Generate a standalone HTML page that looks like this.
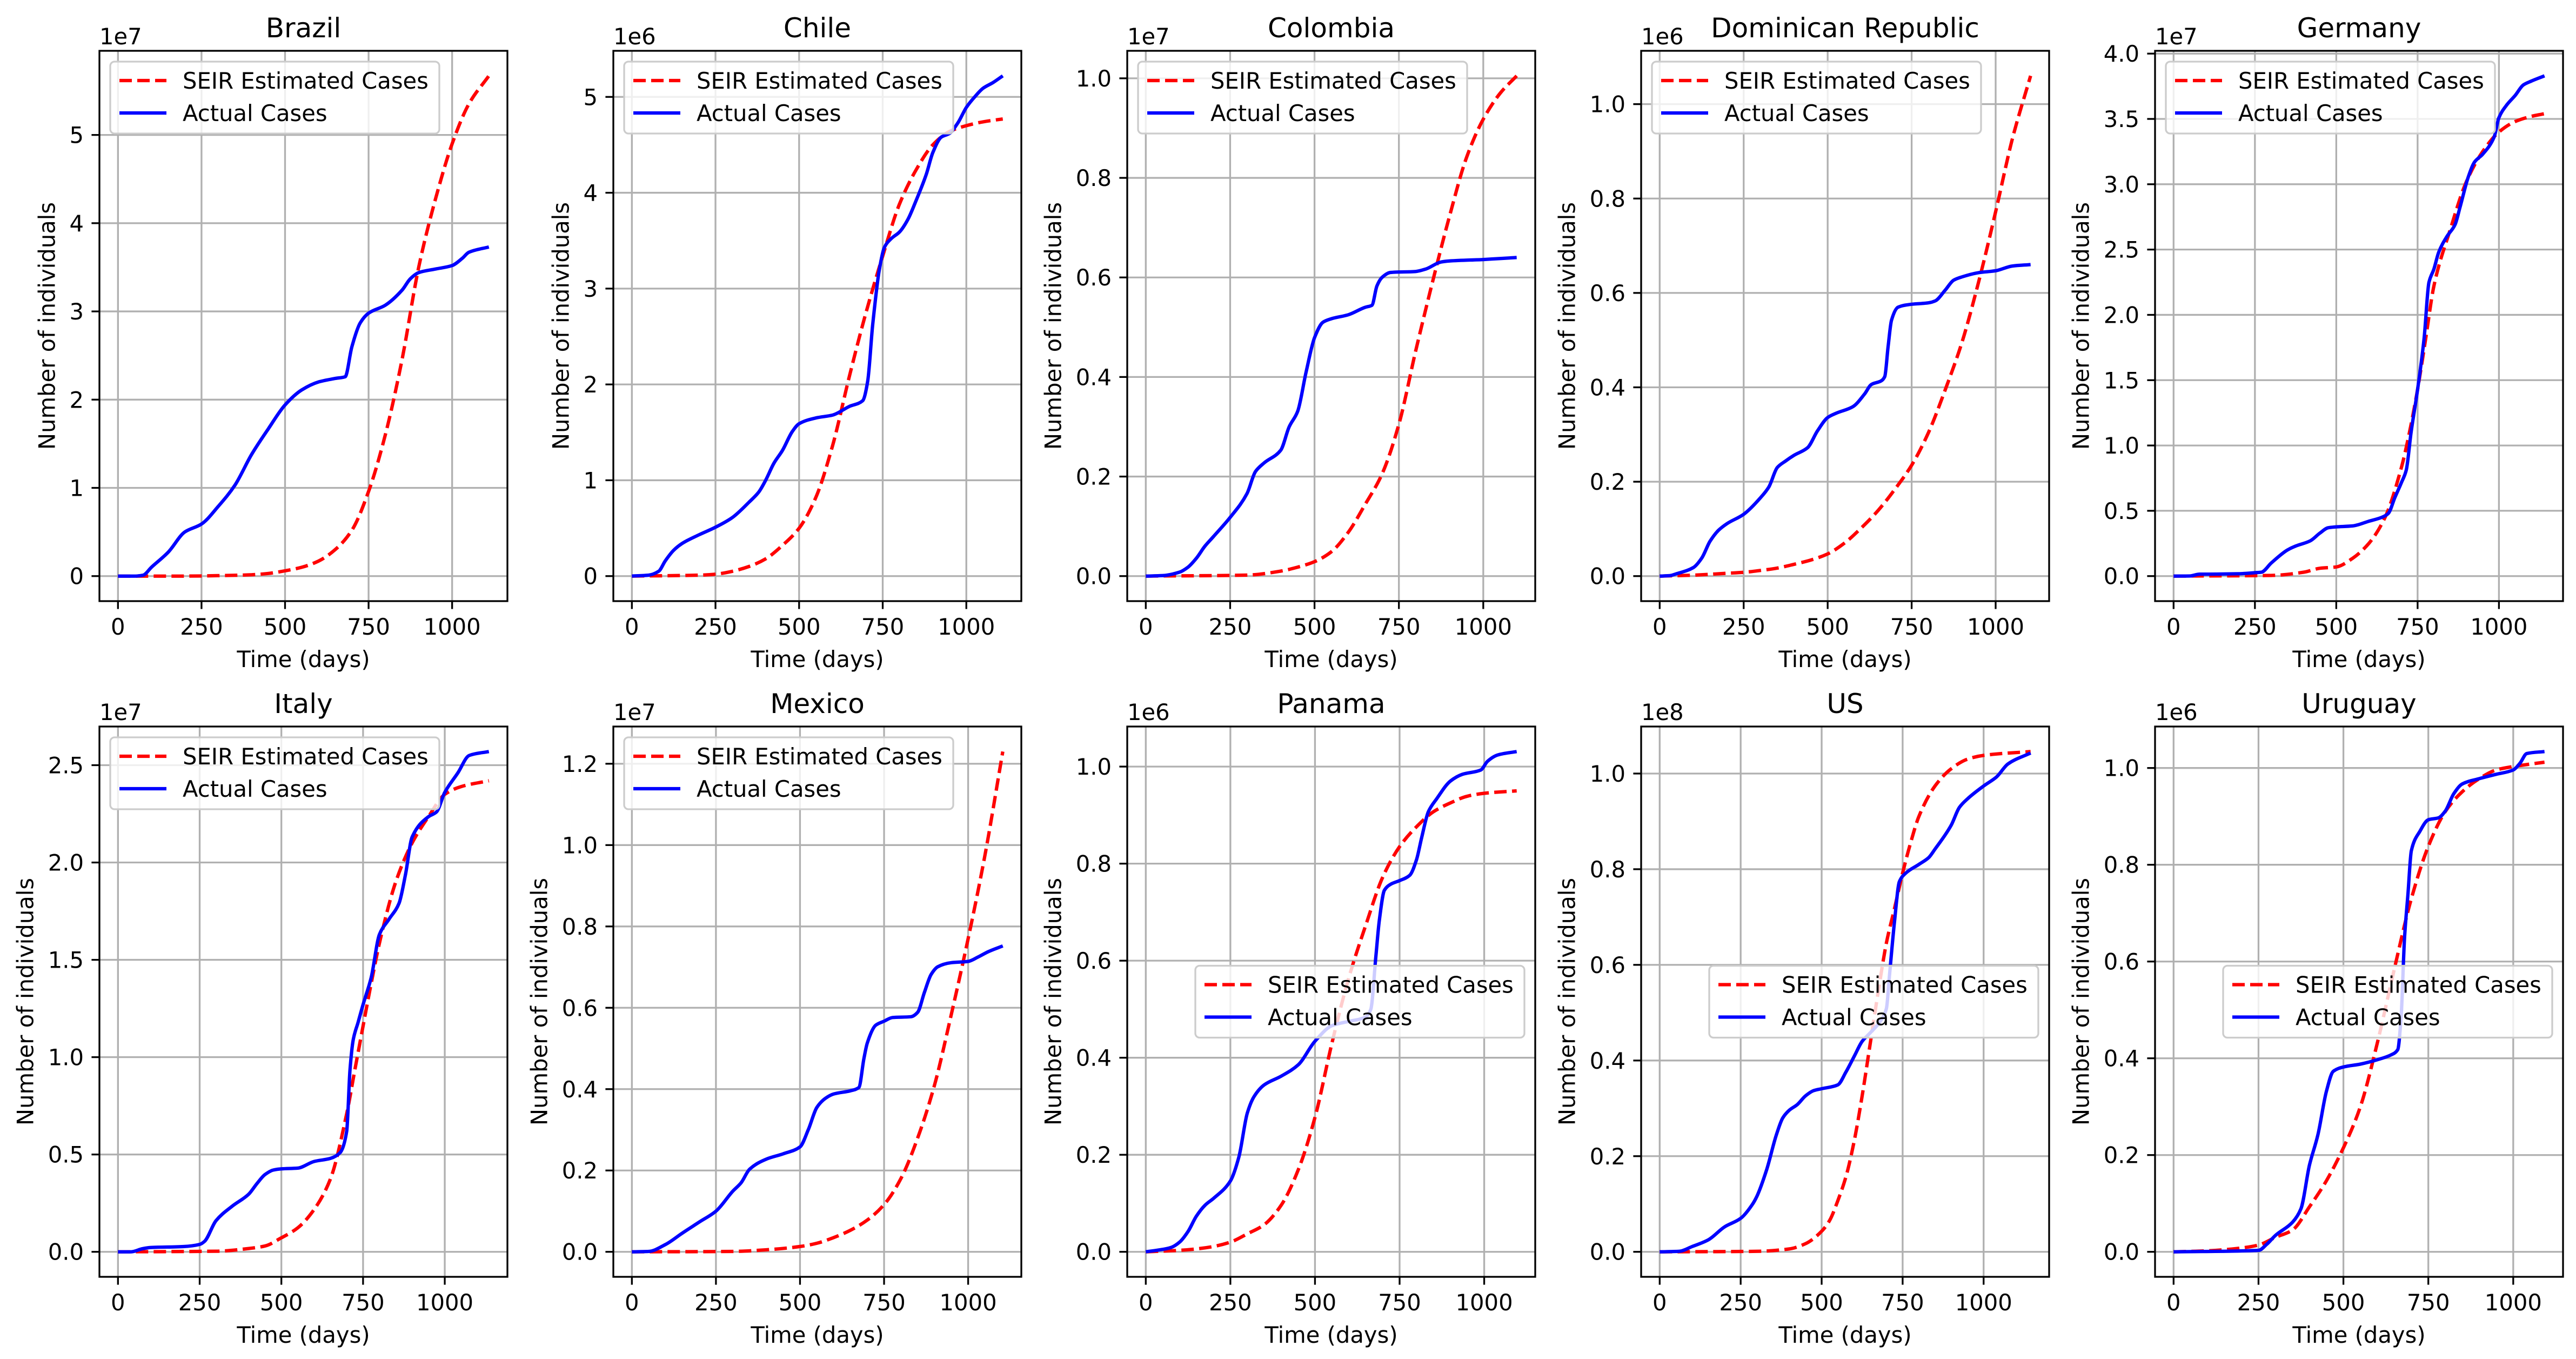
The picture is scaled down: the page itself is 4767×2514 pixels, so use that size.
<!DOCTYPE html>
<html><head><meta charset="utf-8">
<style>
html,body{margin:0;padding:0;background:#fff;}
svg{display:block;font-family:"DejaVu Sans","Liberation Sans",sans-serif;}
</style></head>
<body>
<svg id="fig" width="4767" height="2514" viewBox="0 0 4767 2514" xmlns="http://www.w3.org/2000/svg">
<rect width="4767" height="2514" fill="#fff"/>
</svg>
<script>
const countries = ["Brazil","Chile","Colombia","Dominican Republic","Germany","Italy","Mexico","Panama","US","Uruguay"];
const exponents = [7,6,7,6,7,7,7,6,8,6];
const legendPos = ["ul","ul","ul","ul","ul","ul","ul","cr","cr","cr"];
const xTicks = [0,250,500,750,1000];
const yTicksBrazil = [0,1,2,3,4,5];
const yTicksChile = [0,1,2,3,4,5];
const yTicksColombia = [0,0.2,0.4,0.6,0.8,1.0];
const yTicksDR = [0,0.2,0.4,0.6,0.8,1.0];
const yTicksGermany = [0,0.5,1.0,1.5,2.0,2.5,3.0,3.5,4.0];
const yTicksItaly = [0,0.5,1.0,1.5,2.0,2.5];
const yTicksMexico = [0,0.2,0.4,0.6,0.8,1.0,1.2];
const yTicksPanama = [0,0.2,0.4,0.6,0.8,1.0];
const yTicksUS = [0,0.2,0.4,0.6,0.8,1.0];
const yTicksUruguay = [0,0.2,0.4,0.6,0.8,1.0];
const yDecimals = [0,0,1,1,1,1,1,1,1,1];

// values in units of 10^exponent
const seirDaysBrazil = [0,100,200,300,400,450,500,550,600,650,700,750,800,850,900,950,1000,1050,1110];
const seirBrazil = [0,0,0,0.005,0.015,0.03,0.06,0.1,0.17,0.3,0.52,0.96,1.6,2.45,3.5,4.27,4.9,5.35,5.67];
const actDaysBrazil = [0,50,75,100,150,200,250,300,350,400,450,500,550,600,650,680,700,725,750,800,850,875,900,950,1000,1030,1050,1110];
const actBrazil = [0,0,0.01,0.1,0.27,0.5,0.59,0.79,1.03,1.38,1.67,1.94,2.11,2.2,2.24,2.26,2.6,2.87,2.98,3.07,3.24,3.37,3.44,3.48,3.52,3.6,3.67,3.73];

const seirDaysChile = [0,200,250,300,350,400,450,500,550,600,650,700,750,800,850,900,950,1000,1050,1109];
const seirChile = [0,0.01,0.02,0.05,0.1,0.18,0.32,0.5,0.82,1.36,2.08,2.75,3.34,3.88,4.24,4.5,4.64,4.7,4.74,4.77];
const actDaysChile = [0,50,80,100,125,150,200,250,300,350,380,400,425,450,480,500,550,600,650,690,705,720,740,755,775,800,825,850,880,900,925,950,975,1000,1025,1050,1080,1109];
const actChile = [0,0.01,0.05,0.16,0.27,0.34,0.43,0.51,0.61,0.77,0.88,1.0,1.18,1.31,1.51,1.59,1.65,1.68,1.77,1.83,2.03,2.62,3.2,3.43,3.52,3.59,3.72,3.92,4.19,4.42,4.58,4.62,4.73,4.89,5.0,5.09,5.15,5.22];

const seirDaysColombia = [0,300,400,450,500,550,600,650,700,750,800,850,900,950,1000,1050,1099];
const seirColombia = [0,0.002,0.01,0.018,0.029,0.049,0.088,0.144,0.205,0.305,0.453,0.592,0.723,0.84,0.918,0.97,1.005];
const actDaysColombia = [0,50,100,125,150,175,200,250,300,325,350,400,425,450,475,500,525,550,600,650,670,685,700,725,800,830,875,900,1000,1050,1099];
const actColombia = [0,0.001,0.008,0.018,0.036,0.06,0.079,0.118,0.166,0.21,0.227,0.253,0.3,0.331,0.41,0.479,0.51,0.517,0.525,0.54,0.544,0.583,0.6,0.61,0.612,0.617,0.631,0.633,0.636,0.638,0.64];

const seirDaysDR = [0,100,200,250,300,350,400,450,500,550,600,650,700,750,800,850,900,950,1000,1050,1104];
const seirDR = [0,0.002,0.006,0.008,0.012,0.017,0.025,0.034,0.047,0.07,0.102,0.139,0.184,0.235,0.304,0.395,0.496,0.625,0.772,0.927,1.06];
const actDaysDR = [0,30,50,100,125,150,175,200,250,300,325,350,375,400,440,470,500,525,575,610,630,660,670,680,690,710,750,800,820,850,875,900,950,1000,1050,1104];
const actDR = [0,0.001,0.005,0.018,0.038,0.074,0.097,0.111,0.131,0.166,0.189,0.23,0.244,0.256,0.272,0.308,0.336,0.345,0.359,0.386,0.406,0.414,0.423,0.487,0.542,0.57,0.576,0.579,0.583,0.606,0.627,0.634,0.643,0.647,0.657,0.66];

const seirDaysGermany = [0,300,400,450,500,550,600,650,700,725,750,775,800,850,900,950,1000,1050,1100,1140];
const seirGermany = [0,0.005,0.03,0.06,0.07,0.136,0.25,0.45,0.83,1.1,1.43,1.82,2.22,2.65,3.02,3.25,3.4,3.48,3.52,3.54];
const actDaysGermany = [0,50,80,100,200,250,270,300,350,375,420,450,475,500,550,600,640,660,680,700,715,730,750,770,785,800,815,840,865,880,905,925,950,985,1000,1025,1050,1075,1100,1140];
const actGermany = [0,0.001,0.015,0.015,0.018,0.026,0.03,0.1,0.2,0.23,0.27,0.33,0.37,0.377,0.384,0.42,0.45,0.48,0.6,0.715,0.81,1.1,1.43,1.82,2.25,2.35,2.48,2.6,2.69,2.82,3.05,3.17,3.23,3.36,3.51,3.61,3.68,3.76,3.79,3.83];

const seirDaysItaly = [0,300,400,450,500,550,600,650,700,725,750,775,800,850,900,950,1000,1050,1135];
const seirItaly = [0,0.003,0.017,0.03,0.072,0.123,0.217,0.374,0.71,0.935,1.16,1.38,1.585,1.9,2.1,2.235,2.35,2.39,2.42];
const actDaysItaly = [0,40,75,100,200,250,265,300,350,400,425,450,475,500,550,600,650,680,700,710,720,735,750,775,800,830,860,880,900,950,975,1000,1040,1075,1135];
const actItaly = [0,0,0.016,0.022,0.027,0.038,0.054,0.16,0.235,0.296,0.35,0.397,0.42,0.426,0.43,0.464,0.48,0.51,0.62,0.935,1.09,1.18,1.27,1.41,1.63,1.71,1.79,1.94,2.13,2.235,2.26,2.36,2.46,2.55,2.57];

const seirDaysMexico = [0,300,400,500,550,600,650,700,750,800,850,900,950,1000,1050,1103];
const seirMexico = [0,0.001,0.005,0.013,0.021,0.035,0.053,0.078,0.116,0.18,0.28,0.41,0.584,0.77,0.975,1.23];
const actDaysMexico = [0,50,100,150,200,250,300,325,350,400,450,500,525,550,575,600,650,675,690,700,725,750,775,830,850,870,890,910,950,1000,1030,1060,1103];
const actMexico = [0,0.001,0.018,0.046,0.073,0.1,0.149,0.17,0.203,0.228,0.241,0.258,0.301,0.355,0.377,0.388,0.396,0.404,0.475,0.513,0.557,0.567,0.576,0.578,0.589,0.638,0.682,0.701,0.711,0.714,0.725,0.738,0.752];

const seirDaysPanama = [0,100,150,200,250,300,350,400,450,500,550,600,650,700,750,800,850,900,950,1000,1096];
const seirPanama = [0,0.003,0.006,0.011,0.02,0.037,0.056,0.096,0.168,0.277,0.43,0.565,0.673,0.772,0.835,0.876,0.907,0.925,0.939,0.945,0.95];
const actDaysPanama = [0,50,75,100,125,150,175,200,250,275,300,320,350,400,450,500,550,600,650,665,680,690,705,725,750,780,800,815,835,860,900,935,990,1010,1040,1096];
const actPanama = [0,0.005,0.009,0.02,0.042,0.074,0.096,0.11,0.146,0.195,0.286,0.32,0.344,0.362,0.385,0.434,0.466,0.475,0.484,0.5,0.61,0.682,0.745,0.758,0.765,0.776,0.808,0.853,0.907,0.934,0.97,0.984,0.993,1.011,1.024,1.031];

const seirDaysUS = [0,300,400,450,500,525,550,575,600,625,650,675,700,725,750,775,800,850,900,950,1000,1145];
const seirUS = [0,0.001,0.006,0.017,0.043,0.066,0.107,0.157,0.23,0.326,0.436,0.545,0.646,0.718,0.792,0.856,0.91,0.974,1.01,1.03,1.038,1.046];
const actDaysUS = [0,60,100,150,200,250,285,300,330,360,380,400,425,450,475,500,550,575,600,625,650,680,700,710,725,740,760,800,830,850,900,925,950,1000,1040,1075,1145];
const actUS = [0,0.001,0.011,0.025,0.052,0.07,0.098,0.116,0.171,0.244,0.28,0.296,0.308,0.326,0.337,0.341,0.349,0.376,0.408,0.44,0.458,0.481,0.509,0.582,0.691,0.774,0.792,0.81,0.824,0.842,0.892,0.929,0.947,0.974,0.993,1.02,1.043];

const seirDaysUruguay = [0,100,200,250,300,350,400,450,500,550,600,650,700,750,800,850,900,950,1000,1050,1092];
const seirUruguay = [0,0.002,0.008,0.014,0.03,0.045,0.093,0.147,0.215,0.3,0.432,0.585,0.73,0.838,0.91,0.951,0.978,0.996,1.003,1.008,1.012];
const actDaysUruguay = [0,250,275,300,350,375,400,425,450,470,500,550,600,640,660,670,680,690,700,725,750,780,800,825,850,900,950,1000,1020,1040,1092];
const actUruguay = [0,0.003,0.016,0.034,0.061,0.089,0.179,0.242,0.332,0.373,0.382,0.388,0.397,0.407,0.418,0.486,0.649,0.739,0.829,0.869,0.893,0.897,0.911,0.947,0.967,0.978,0.987,0.996,1.01,1.03,1.034];

const yTickSets = [yTicksBrazil,yTicksChile,yTicksColombia,yTicksDR,yTicksGermany,yTicksItaly,yTicksMexico,yTicksPanama,yTicksUS,yTicksUruguay];
const seirDaySets = [seirDaysBrazil,seirDaysChile,seirDaysColombia,seirDaysDR,seirDaysGermany,seirDaysItaly,seirDaysMexico,seirDaysPanama,seirDaysUS,seirDaysUruguay];
const seirSets = [seirBrazil,seirChile,seirColombia,seirDR,seirGermany,seirItaly,seirMexico,seirPanama,seirUS,seirUruguay];
const actDaySets = [actDaysBrazil,actDaysChile,actDaysColombia,actDaysDR,actDaysGermany,actDaysItaly,actDaysMexico,actDaysPanama,actDaysUS,actDaysUruguay];
const actSets = [actBrazil,actChile,actColombia,actDR,actGermany,actItaly,actMexico,actPanama,actUS,actUruguay];

const NS = "http://www.w3.org/2000/svg";
const svg = document.getElementById("fig");
const colLeft = [184,1135,2086,3037,3988];
const rowTop = [94,1344];
const AW = 755, AH = 1018;
const FS = 41.7, TFS = 50;

function mk(tag, attrs, parent) {
  const e = document.createElementNS(NS, tag);
  for (const k in attrs) e.setAttribute(k, attrs[k]);
  (parent || svg).appendChild(e);
  return e;
}
function txtWidth(s) {
  let w = 0;
  for (const c of s) w += (c === "." ? 0.318 : 0.636) * FS;
  return w;
}
// monotone cubic (Fritsch-Carlson) path through screen points
function monoPath(px, py) {
  const n = px.length;
  if (n < 3) return "M" + px.map((x, k) => x.toFixed(1) + "," + py[k].toFixed(1)).join("L");
  const d = [], m = new Array(n);
  for (let k = 0; k < n - 1; k++) d.push((py[k + 1] - py[k]) / (px[k + 1] - px[k]));
  m[0] = d[0]; m[n - 1] = d[n - 2];
  for (let k = 1; k < n - 1; k++) {
    if (d[k - 1] * d[k] <= 0) m[k] = 0;
    else {
      const h0 = px[k] - px[k - 1], h1 = px[k + 1] - px[k];
      const w1 = 2 * h1 + h0, w2 = h1 + 2 * h0;
      m[k] = (w1 + w2) / (w1 / d[k - 1] + w2 / d[k]);
    }
  }
  let s = "M" + px[0].toFixed(1) + "," + py[0].toFixed(1);
  for (let k = 0; k < n - 1; k++) {
    const h = px[k + 1] - px[k];
    s += "C" + (px[k] + h / 3).toFixed(1) + "," + (py[k] + m[k] * h / 3).toFixed(1) + " " +
         (px[k + 1] - h / 3).toFixed(1) + "," + (py[k + 1] - m[k + 1] * h / 3).toFixed(1) + " " +
         px[k + 1].toFixed(1) + "," + py[k + 1].toFixed(1);
  }
  return s;
}

for (let i = 0; i < 10; i++) {
  const L = colLeft[i % 5], T = rowTop[Math.floor(i / 5)];
  const sd = seirDaySets[i], sv = seirSets[i], ad = actDaySets[i], av = actSets[i];
  const xMax = Math.max(sd[sd.length - 1], ad[ad.length - 1]);
  const yMax = Math.max(...sv, ...av);
  const x0 = -0.05 * xMax, x1 = 1.05 * xMax;
  const y0 = -0.05 * yMax, y1 = 1.05 * yMax;
  const X = v => L + (v - x0) / (x1 - x0) * AW;
  const Y = v => T + AH - (v - y0) / (y1 - y0) * AH;

  const g = mk("g", {});
  
  

  const cp = mk("clipPath", {id: "clip" + i}, g);
  mk("rect", {x: L, y: T, width: AW, height: AH}, cp);

  const grid = mk("g", {stroke: "#b0b0b0", "stroke-width": 3.3}, g);
  
  
  xTicks.forEach(t => mk("line", {x1: X(t), x2: X(t), y1: T, y2: T + AH}, grid));
  const yt = yTickSets[i];
  yt.forEach(t => mk("line", {x1: L, x2: L + AW, y1: Y(t), y2: Y(t)}, grid));

  const s1 = mk("path", {d: monoPath(sd.map(X), sv.map(Y)), fill: "none", stroke: "#ff0000", "stroke-width": 6.25, "stroke-dasharray": "23,10", "clip-path": "url(#clip" + i + ")"}, g);
  
  
  const s2 = mk("path", {d: monoPath(ad.map(X), av.map(Y)), fill: "none", stroke: "#0000ff", "stroke-width": 6.25, "stroke-linejoin": "round", "clip-path": "url(#clip" + i + ")"}, g);
  
  

  const fr = mk("rect", {x: L, y: T, width: AW, height: AH, fill: "none", stroke: "#000", "stroke-width": 3.3}, g);
  
  

  xTicks.forEach(t => {
    mk("line", {x1: X(t), x2: X(t), y1: T + AH, y2: T + AH + 14.6, stroke: "#000", "stroke-width": 3.3}, g);
    const tl = mk("text", {x: X(t), y: T + AH + 62, "font-size": FS, "text-anchor": "middle", fill: "#000"}, g);
    tl.textContent = String(t);
    
    
  });
  let maxW = 0;
  yt.forEach(t => {
    mk("line", {x1: L - 14.6, x2: L, y1: Y(t), y2: Y(t), stroke: "#000", "stroke-width": 3.3}, g);
    const s = t.toFixed(yDecimals[i]);
    maxW = Math.max(maxW, txtWidth(s));
    const tl = mk("text", {x: L - 29, y: Y(t) + 15, "font-size": FS, "text-anchor": "end", fill: "#000"}, g);
    tl.textContent = s;
    
    
  });
  const ot = mk("text", {x: L, y: T - 12, "font-size": FS, fill: "#000"}, g);
  ot.textContent = "1e" + exponents[i];
  
  
  const tt = mk("text", {x: L + AW / 2, y: T - 25, "font-size": TFS, "text-anchor": "middle", fill: "#000"}, g);
  tt.textContent = countries[i];
  
  
  const xl = mk("text", {x: L + AW / 2, y: T + AH + 122, "font-size": FS, "text-anchor": "middle", fill: "#000"}, g);
  xl.textContent = "Time (days)";
  
  
  const yx = L - 29 - maxW - 17 - 10;
  const yl = mk("text", {x: yx, y: T + AH / 2, "font-size": FS, "text-anchor": "middle", fill: "#000", transform: "rotate(-90 " + yx + " " + (T + AH / 2) + ")"}, g);
  yl.textContent = "Number of individuals";
  
  

  const LW = 609, LH = 133;
  let lx, ly;
  if (legendPos[i] === "ul") { lx = L + 20; ly = T + 20; }
  else { lx = L + AW - 20 - LW; ly = T + AH / 2 - LH / 2; }
  const lg = mk("g", {}, g);
  
  
  mk("rect", {x: lx, y: ly, width: LW, height: LH, rx: 8, ry: 8, fill: "#fff", "fill-opacity": 0.8, stroke: "#cccccc", "stroke-width": 3.3}, lg);
  const e1 = mk("g", {}, lg);
  
  
  mk("line", {x1: lx + 17, x2: lx + 104, y1: ly + 35, y2: ly + 35, stroke: "#ff0000", "stroke-width": 6.25, "stroke-dasharray": "23,10"}, e1);
  const t1 = mk("text", {x: lx + 134, y: ly + 50, "font-size": FS, fill: "#000"}, e1);
  t1.textContent = "SEIR Estimated Cases";
  const e2 = mk("g", {}, lg);
  
  
  mk("line", {x1: lx + 17, x2: lx + 104, y1: ly + 95, y2: ly + 95, stroke: "#0000ff", "stroke-width": 6.25}, e2);
  const t2 = mk("text", {x: lx + 134, y: ly + 110, "font-size": FS, fill: "#000"}, e2);
  t2.textContent = "Actual Cases";
}
</script>
</body></html>
